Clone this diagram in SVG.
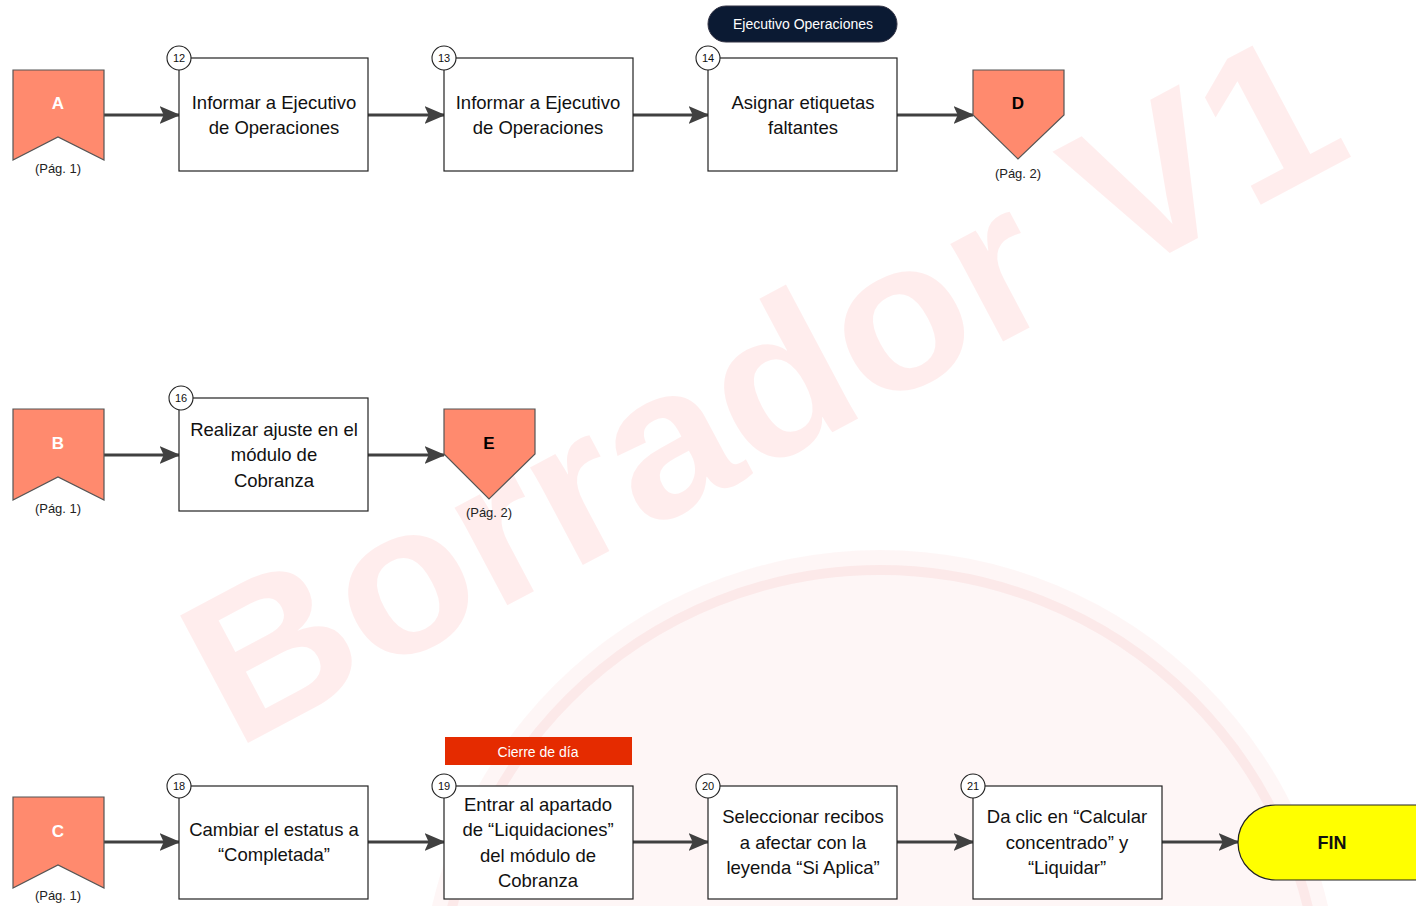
<svg xmlns="http://www.w3.org/2000/svg" width="1416" height="906" viewBox="0 0 1416 906">
<style>
.box{fill:#fff;stroke:#222;stroke-width:1.2}
.t{font-family:"Liberation Sans",Arial,sans-serif;font-size:18.5px;fill:#111;text-anchor:middle}
.num circle{fill:#fff;stroke:#222;stroke-width:1.1}
.num text{font-family:"Liberation Sans",Arial,sans-serif;font-size:11px;fill:#111;text-anchor:middle}
.op{fill:#ff8a6e;stroke:#555;stroke-width:1.2}
.opl{font-family:"Liberation Sans",Arial,sans-serif;font-size:17px;font-weight:bold;text-anchor:middle}
.pg{font-family:"Liberation Sans",Arial,sans-serif;font-size:13px;fill:#222;text-anchor:middle}
.conn line{stroke:#404040;stroke-width:3;marker-end:url(#ah)}
.wm{font-family:"Liberation Sans",Arial,sans-serif;font-weight:bold;fill:#ff0000;fill-opacity:0.07}
</style>
<defs>
<marker id="ah" markerWidth="7" markerHeight="6" refX="6.5" refY="3" orient="auto" markerUnits="strokeWidth">
<path d="M0,0 L7,3 L0,6 L1.4,3 Z" fill="#404040"/>
</marker>
</defs>
<rect width="1416" height="906" fill="#fff"/>
<g id="watermark">
<circle cx="880" cy="1010" r="460" fill="#e00000" fill-opacity="0.035"/>
<circle cx="880" cy="1010" r="440" fill="none" stroke="#e00000" stroke-opacity="0.05" stroke-width="10"/>
<text class="wm" x="0" y="0" font-size="210" textLength="1270" lengthAdjust="spacingAndGlyphs" transform="translate(235,750) rotate(-28)">Borrador V1</text>
</g>

<g id="connectors" class="conn">
<line x1="104" y1="115" x2="179" y2="115"/>
<line x1="368" y1="115" x2="444" y2="115"/>
<line x1="633" y1="115" x2="708" y2="115"/>
<line x1="897" y1="115" x2="973" y2="115"/>
<line x1="104" y1="455" x2="179" y2="455"/>
<line x1="368" y1="455" x2="444" y2="455"/>
<line x1="104" y1="842" x2="179" y2="842"/>
<line x1="368" y1="842" x2="444" y2="842"/>
<line x1="633" y1="842" x2="708" y2="842"/>
<line x1="897" y1="842" x2="973" y2="842"/>
<line x1="1162" y1="842" x2="1238" y2="842"/>
</g>

<g id="nodeA">
<polygon class="op" points="13,70 104,70 104,160 58,137 13,160"/>
<text class="opl" x="58" y="109" fill="#fff">A</text>
<text class="pg" x="58" y="173">(Pág. 1)</text>
</g>
<g id="node12">
<rect class="box" x="179" y="58" width="189" height="113"/>
<text class="t" x="274" y="109">Informar a Ejecutivo</text>
<text class="t" x="274" y="134">de Operaciones</text>
<g class="num"><circle cx="179" cy="58" r="12"/><text x="179" y="62">12</text></g>
</g>
<g id="node13">
<rect class="box" x="444" y="58" width="189" height="113"/>
<text class="t" x="538" y="109">Informar a Ejecutivo</text>
<text class="t" x="538" y="134">de Operaciones</text>
<g class="num"><circle cx="444" cy="58" r="12"/><text x="444" y="62">13</text></g>
</g>
<g id="lane-ejecutivo">
<rect x="708" y="6" width="189" height="36" rx="18" fill="#0b1a33" stroke="#334" stroke-width="1"/>
<text x="803" y="29" font-family="'Liberation Sans',Arial,sans-serif" font-size="14" fill="#fff" text-anchor="middle">Ejecutivo Operaciones</text>
</g>
<g id="node14">
<rect class="box" x="708" y="58" width="189" height="113"/>
<text class="t" x="803" y="109">Asignar etiquetas</text>
<text class="t" x="803" y="134">faltantes</text>
<g class="num"><circle cx="708" cy="58" r="12"/><text x="708" y="62">14</text></g>
</g>
<g id="nodeD">
<polygon class="op" points="973,70 1064,70 1064,115 1018,159 973,115"/>
<text class="opl" x="1018" y="109" fill="#000">D</text>
<text class="pg" x="1018" y="178">(Pág. 2)</text>
</g>

<g id="nodeB">
<polygon class="op" points="13,409 104,409 104,500 58,477 13,500"/>
<text class="opl" x="58" y="449" fill="#fff">B</text>
<text class="pg" x="58" y="513">(Pág. 1)</text>
</g>
<g id="node16">
<rect class="box" x="179" y="398" width="189" height="113"/>
<text class="t" x="274" y="436">Realizar ajuste en el</text>
<text class="t" x="274" y="461">módulo de</text>
<text class="t" x="274" y="487">Cobranza</text>
<g class="num"><circle cx="181" cy="398" r="12"/><text x="181" y="402">16</text></g>
</g>
<g id="nodeE">
<polygon class="op" points="444,409 535,409 535,454 489,499 444,454"/>
<text class="opl" x="489" y="449" fill="#000">E</text>
<text class="pg" x="489" y="517">(Pág. 2)</text>
</g>

<g id="nodeC">
<polygon class="op" points="13,797 104,797 104,888 58,865 13,888"/>
<text class="opl" x="58" y="837" fill="#fff">C</text>
<text class="pg" x="58" y="900">(Pág. 1)</text>
</g>
<g id="node18">
<rect class="box" x="179" y="786" width="189" height="113"/>
<text class="t" x="274" y="836">Cambiar el estatus a</text>
<text class="t" x="274" y="861">“Completada”</text>
<g class="num"><circle cx="179" cy="786" r="12"/><text x="179" y="790">18</text></g>
</g>
<g id="lane-cierre">
<rect x="445" y="737" width="187" height="28" fill="#e52b00"/>
<text x="538" y="757" font-family="'Liberation Sans',Arial,sans-serif" font-size="14" fill="#fff" text-anchor="middle">Cierre de día</text>
</g>
<g id="node19">
<rect class="box" x="444" y="786" width="189" height="113"/>
<text class="t" x="538" y="811">Entrar al apartado</text>
<text class="t" x="538" y="836">de “Liquidaciones”</text>
<text class="t" x="538" y="862">del módulo de</text>
<text class="t" x="538" y="887">Cobranza</text>
<g class="num"><circle cx="444" cy="786" r="12"/><text x="444" y="790">19</text></g>
</g>
<g id="node20">
<rect class="box" x="708" y="786" width="189" height="113"/>
<text class="t" x="803" y="823">Seleccionar recibos</text>
<text class="t" x="803" y="849">a afectar con la</text>
<text class="t" x="803" y="874">leyenda “Si Aplica”</text>
<g class="num"><circle cx="708" cy="786" r="12"/><text x="708" y="790">20</text></g>
</g>
<g id="node21">
<rect class="box" x="973" y="786" width="189" height="113"/>
<text class="t" x="1067" y="823">Da clic en “Calcular</text>
<text class="t" x="1067" y="849">concentrado” y</text>
<text class="t" x="1067" y="874">“Liquidar”</text>
<g class="num"><circle cx="973" cy="786" r="12"/><text x="973" y="790">21</text></g>
</g>
<g id="nodeFIN">
<rect x="1238" y="805" width="220" height="75" rx="37.5" fill="#ffff00" stroke="#222" stroke-width="1.2"/>
<text x="1332" y="849" font-family="'Liberation Sans',Arial,sans-serif" font-size="18" font-weight="bold" fill="#111" text-anchor="middle">FIN</text>
</g>
</svg>
